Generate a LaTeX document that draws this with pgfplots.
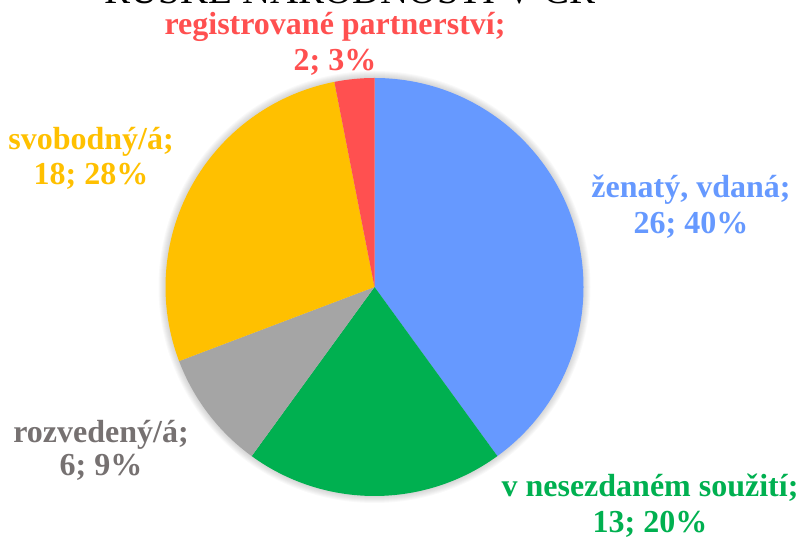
\documentclass[border=0pt]{standalone}
\usepackage{pgfplots}
\pgfplotsset{compat=1.18}
\usepackage{pgfplotstable}
\usepackage{fontspec}
\setmainfont{Liberation Serif}

\definecolor{cBlue}{HTML}{6699FF}
\definecolor{cGreen}{HTML}{00B050}
\definecolor{cGray}{HTML}{A5A5A5}
\definecolor{cGrayTxt}{HTML}{767171}
\definecolor{cYellow}{HTML}{FFC000}
\definecolor{cRed}{HTML}{FF5050}

% rodinny stav - pocty osob, po smeru hodin od 12:00
\pgfplotstableread{
value color
26 cBlue
13 cGreen
6  cGray
18 cYellow
2  cRed
}\piedata

\begin{document}
\begin{tikzpicture}[lbl/.style={anchor=base, inner sep=0pt, font=\fontsize{16}{16}\selectfont\bfseries}]
\path[use as bounding box, clip] (0,0) rectangle (399pt,269.5pt);
\begin{axis}[x=0.5pt, y=0.5pt, xmin=0, xmax=798, ymin=0, ymax=539,
  hide axis, clip=false]

% jemny stin kolem kolace
\pgfplotsforeachungrouped \k in {1,...,7}{%
  \pgfmathsetmacro\rr{(209+\k)*0.5}%
  \edef\temp{\noexpand\fill[black, opacity=0.025] (axis cs:374.5,252) circle[radius=\rr pt];}%
  \temp}

\pgfplotstablegetrowsof{\piedata}
\pgfmathtruncatemacro\nlast{\pgfplotsretval-1}
\def\total{0}
\pgfplotsforeachungrouped \i in {0,...,\nlast}{%
  \pgfplotstablegetelem{\i}{value}\of\piedata
  \pgfmathsetmacro\total{\total+\pgfplotsretval}}
\def\curang{90}
\pgfplotsforeachungrouped \i in {0,...,\nlast}{%
  \pgfplotstablegetelem{\i}{value}\of\piedata \let\val\pgfplotsretval
  \pgfplotstablegetelem{\i}{color}\of\piedata \let\col\pgfplotsretval
  \pgfmathsetmacro\nextang{\curang-360*\val/\total}%
  \edef\temp{\noexpand\fill[\col] (axis cs:374.5,252) -- ++(\curang:104.5pt)
    arc[start angle=\curang, end angle=\nextang, radius=104.5pt] -- cycle;}%
  \temp
  \let\curang\nextang}

\node[anchor=base, inner sep=0pt, font=\fontsize{19.5}{19.5}\selectfont] at (axis cs:350,535) {RUSKÉ NÁRODNOSTI V ČR};

\node[lbl, cRed] at (axis cs:335,504) {registrované partnerství;};
\node[lbl, cRed] at (axis cs:335,468) {2; 3\%};
\node[lbl, cBlue] at (axis cs:691,341) {ženatý, vdaná;};
\node[lbl, cBlue] at (axis cs:691,305) {26; 40\%};
\node[lbl, cYellow] at (axis cs:91,389) {svobodný/á;};
\node[lbl, cYellow] at (axis cs:91,354) {18; 28\%};
\node[lbl, cGrayTxt] at (axis cs:101,96) {rozvedený/á;};
\node[lbl, cGrayTxt] at (axis cs:101,63) {6; 9\%};
\node[lbl, cGreen] at (axis cs:650,42) {v nesezdaném soužití;};
\node[lbl, cGreen] at (axis cs:650,6) {13; 20\%};
\end{axis}
\end{tikzpicture}
\end{document}
